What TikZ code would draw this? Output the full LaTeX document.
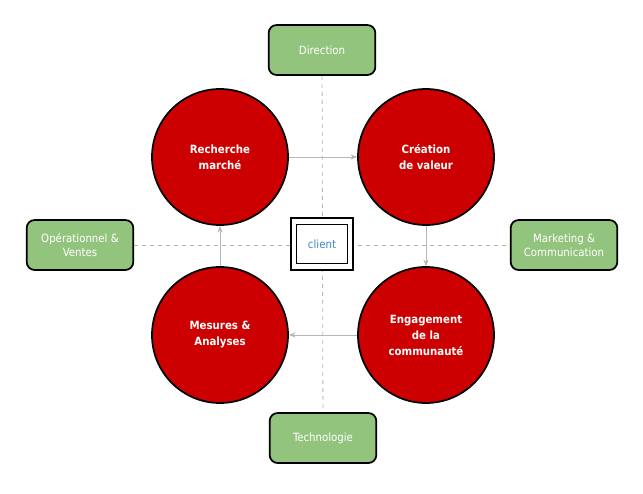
\documentclass[tikz,border=0pt]{standalone}
\usepackage{fontspec}
\setmainfont{DejaVu Sans Condensed}
\usepackage{xcolor}
\usepackage{tikz}
\usetikzlibrary{arrows.meta}
\definecolor{boxgreen}{HTML}{93C47D}
\definecolor{circred}{HTML}{CC0000}
\definecolor{clientblue}{HTML}{3D85C6}
\definecolor{linegray}{HTML}{B7B7B7}
\tikzstyle{dept} = [rectangle, rounded corners=6pt, minimum width=80pt, minimum height=37.5pt, align=center, draw=black, line width=1.3pt, fill=boxgreen, text=white, font=\fontsize{8.5}{10.5}\selectfont]
\tikzstyle{phase} = [circle, minimum size=102pt, inner sep=0pt, align=center, draw=black, line width=1.3pt, fill=circred, text=white, font=\bfseries\fontsize{8.5}{12}\selectfont]
\tikzstyle{frame} = [rectangle, draw=black, line width=1pt, fill=white, minimum width=46.5pt, minimum height=39pt]
\tikzstyle{client} = [rectangle, draw=black, line width=1pt, fill=white, minimum width=38pt, minimum height=29pt, text=clientblue, font=\fontsize{8.5}{10}\selectfont]
\tikzstyle{axis} = [draw=linegray, dashed, line width=0.6pt]
\tikzstyle{arrow} = [draw=linegray, line width=0.7pt, -{Stealth[length=5pt,width=4pt]}]

\begin{document}
\begin{tikzpicture}[x=0.75pt, y=-0.75pt]
	\useasboundingbox (0,0) rectangle (643,493);
	
	\node (dir) [dept] at (322,50) {Direction};
	\node (tech) [dept] at (323,438) {Technologie};
	\node (ops) [dept] at (80,245) {Opérationnel \&\\Ventes};
	\node (mkt) [dept] at (564,245) {Marketing \&\\Communication};
	
	\draw [axis] (dir) -- (tech);
	\draw [axis] (ops) -- (mkt);
	
	\node (cliframe) [frame] at (322,244) {};
	\node (cli) [client] at (cliframe.center) {client};
	
	\node (rech) [phase] at (220,157) {Recherche\\marché};
	\node (crea) [phase] at (426,157) {Création\\de valeur};
	\node (enga) [phase] at (426,335) {Engagement\\de la\\communauté};
	\node (mes) [phase] at (220,335) {Mesures \&\\Analyses};
	
	\draw [arrow] (rech) -- (crea);
	\draw [arrow] (crea) -- (enga);
	\draw [arrow] (enga) -- (mes);
	\draw [arrow] (mes) -- (rech);
	
\end{tikzpicture}
\end{document}
